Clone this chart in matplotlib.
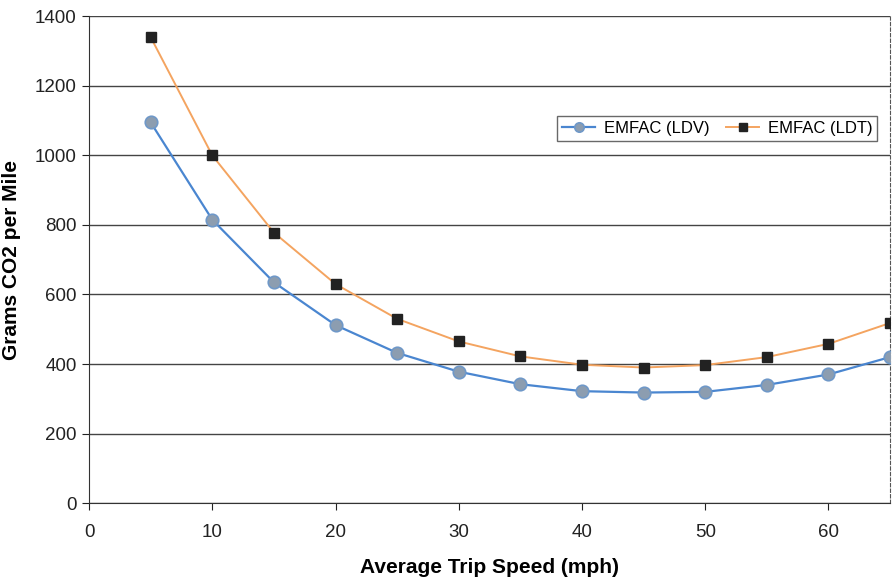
import matplotlib
matplotlib.use("Agg")
import matplotlib.pyplot as plt

speed = [5, 10, 15, 20, 25, 30, 35, 40, 45, 50, 55, 60, 65]
ldv = [1095, 815, 635, 512, 432, 378, 342, 322, 318, 320, 340, 370, 420]
ldt = [1340, 1000, 778, 630, 530, 465, 422, 398, 390, 397, 420, 458, 518]
xticks = [0, 10, 20, 30, 40, 50, 60]
yticks = [0, 200, 400, 600, 800, 1000, 1200, 1400]

plt.rcParams['font.family'] = ['Liberation Sans', 'DejaVu Sans']
fig = plt.figure(figsize=(8.94, 5.81), dpi=100)
ax = fig.add_axes([0.0996, 0.134, 0.896, 0.838])

ax.plot(speed, ldv, color='#4a86d0', lw=1.6, marker='o', ms=9,
        markerfacecolor='#8c9db0', markeredgecolor='#6f98c8', markeredgewidth=1.2,
        label='EMFAC (LDV)', zorder=3)
ax.plot(speed, ldt, color='#f4a460', lw=1.4, marker='s', ms=7,
        markerfacecolor='#222222', markeredgecolor='#222222',
        label='EMFAC (LDT)', zorder=3)

ax.set_xlim(0, 65)
ax.set_ylim(0, 1400)
ax.set_xticks(xticks)
ax.set_yticks(yticks)
ax.yaxis.grid(True, color='#444444', lw=1.0)
ax.set_axisbelow(True)
ax.spines['top'].set_visible(False)
ax.spines['right'].set_color('#555555')
ax.spines['right'].set_linestyle((0, (3, 2)))
ax.spines['left'].set_color('#333333')
ax.spines['bottom'].set_color('#333333')
ax.tick_params(axis='both', labelsize=13.5, colors='#222222', length=5, direction='out')
ax.tick_params(axis='x', pad=10)
ax.tick_params(axis='y', pad=4)

ax.set_xlabel('Average Trip Speed (mph)', fontsize=15, fontweight='bold', labelpad=12)
ax.set_ylabel('Grams CO2 per Mile', fontsize=15, fontweight='bold', labelpad=10)

leg = ax.legend(loc='center', bbox_to_anchor=(0.784, 0.77), ncol=2, frameon=True,
                fancybox=False, edgecolor='#444444', fontsize=12, markerscale=0.75,
                handlelength=2.0, columnspacing=1.0, borderpad=0.3, handletextpad=0.5)
leg.get_frame().set_linewidth(1.0)

fig.savefig('out.png', dpi=100)
